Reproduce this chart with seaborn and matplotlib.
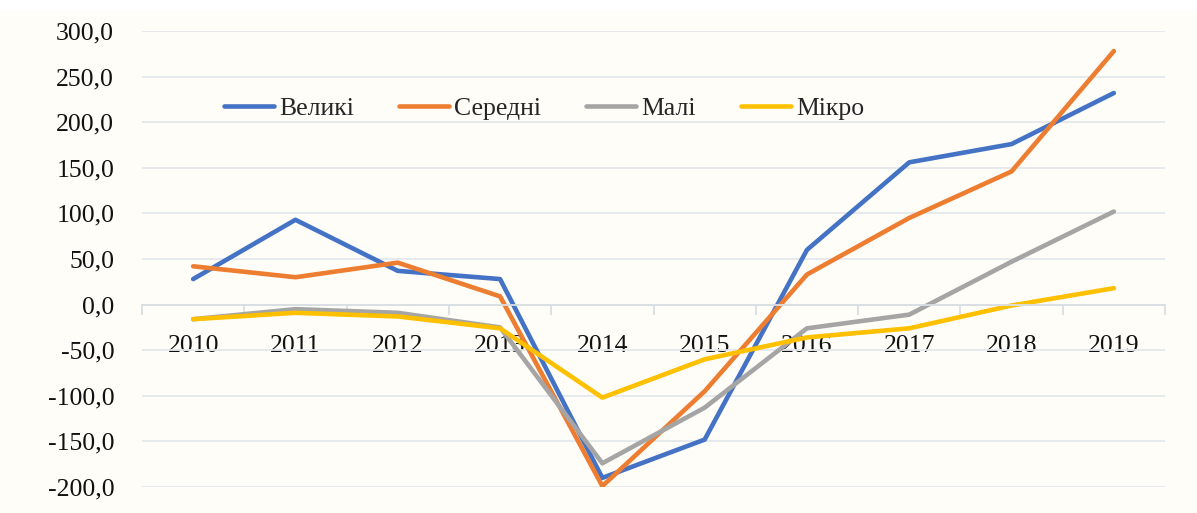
import matplotlib
matplotlib.use("Agg")
import matplotlib.pyplot as plt
import matplotlib.ticker as mticker
import matplotlib.patches as mpatches
import seaborn as sns
import pandas as pd

# chart data
years = ["2010", "2011", "2012", "2013", "2014", "2015", "2016", "2017", "2018", "2019"]
series_names = ["Великі", "Середні", "Малі", "Мікро"]
velyki = [28, 93, 37, 28, -190, -148, 60, 156, 176, 232]
seredni = [42, 30, 46, 9, -199, -95, 33, 95, 146, 278]
mali = [-16, -5, -9, -25, -174, -113, -26, -11, 47, 102]
mikro = [-16, -9, -13, -26, -102, -60, -36, -26, -1, 18]
colors = ["#4472C4", "#ED7D31", "#A5A5A5", "#FFC000"]

# long table for seaborn
rows = []
for name, vals in zip(series_names, [velyki, seredni, mali, mikro]):
    for i, v in enumerate(vals):
        rows.append({"idx": i, "value": v, "series": name})
df = pd.DataFrame(rows)

sns.set_style("white")
plt.rcParams["font.family"] = ["Liberation Serif", "DejaVu Serif"]

bg = "#FEFDF8"
grid_col = "#E4E8EC"

fig = plt.figure(figsize=(11.97, 5.13), dpi=100, facecolor=bg)
# white strip at the very top of the crop
fig.patches.append(mpatches.Rectangle((0, 1 - 10 / 513), 1, 10 / 513,
                                      transform=fig.transFigure, color="white", zorder=-1))
ax = fig.add_axes([142 / 1197, 26 / 513, 1023 / 1197, 456 / 513])
ax.set_facecolor(bg)

sns.lineplot(data=df, x="idx", y="value", hue="series", hue_order=series_names,
             palette=colors, linewidth=3.3, sort=False, ax=ax)

ax.set_xlim(-0.5, len(years) - 0.5)
ax.set_ylim(-200, 300)
ax.yaxis.set_major_locator(mticker.MultipleLocator(50))
ax.yaxis.set_major_formatter(mticker.FuncFormatter(lambda v, p: f"{v:.1f}".replace(".", ",")))
ax.grid(axis="y", color=grid_col, linewidth=1.3, zorder=0)
ax.set_axisbelow(True)

for s in ["top", "right", "left"]:
    ax.spines[s].set_visible(False)
ax.spines["bottom"].set_position(("data", 0))
ax.spines["bottom"].set_color("#D9DEE4")
ax.spines["bottom"].set_linewidth(1.3)

ax.set_xticks(range(len(years)))
ax.set_xticklabels(years)
ax.set_xticks([i - 0.5 for i in range(len(years) + 1)], minor=True)
ax.tick_params(axis="x", which="major", length=0, pad=22, labelsize=18.5, colors="#111111")
ax.tick_params(axis="x", which="minor", bottom=True, length=7, width=1.3,
               color="#D9DEE4", direction="out")
ax.tick_params(axis="y", length=0, pad=20, labelsize=18.5, colors="#111111")
ax.set_xlabel("")
ax.set_ylabel("")

leg = ax.legend(loc="center left", bbox_to_anchor=(0.08, 0.831), ncol=4, frameon=False,
                fontsize=18.5, handlelength=1.95, handletextpad=0.2, columnspacing=1.75,
                borderpad=0, borderaxespad=0)
for line in leg.get_lines():
    line.set_linewidth(3.3)

fig.savefig("out.png", dpi=100, facecolor=bg)
